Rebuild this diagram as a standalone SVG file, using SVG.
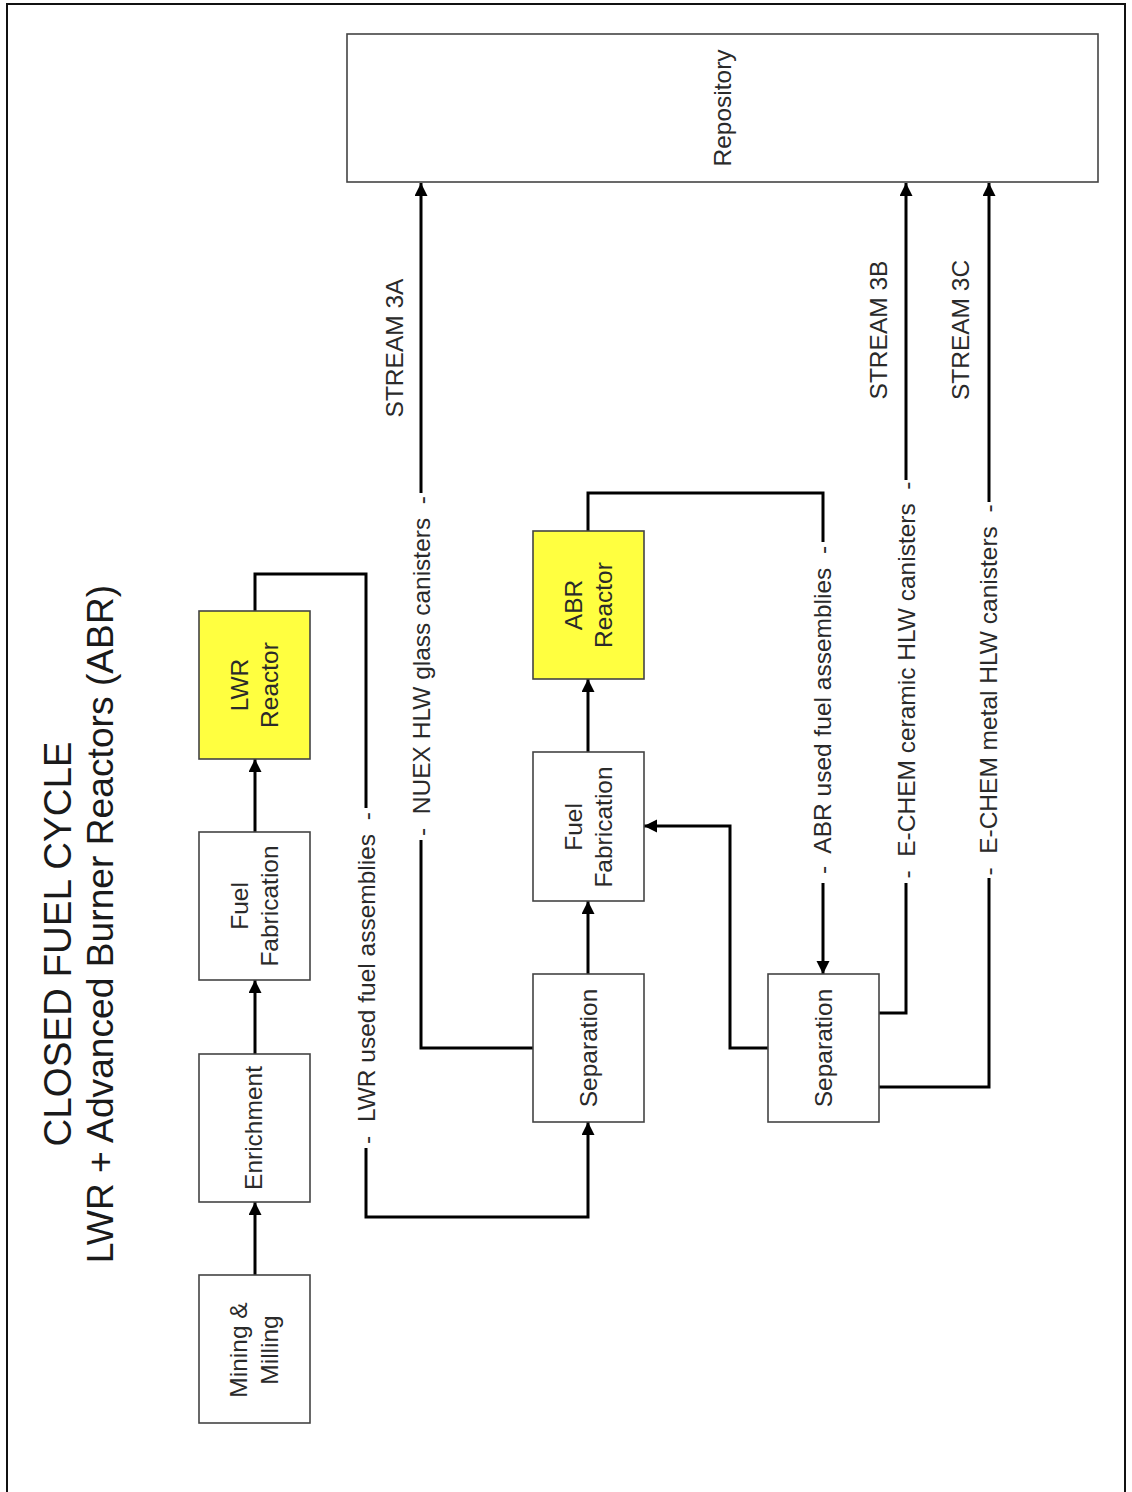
<svg xmlns="http://www.w3.org/2000/svg" width="1132" height="1492" viewBox="0 0 1132 1492">
<style>
.bx{fill:#fff;stroke:#444;stroke-width:1.6}
.rx{fill:#ffff40;stroke:#444;stroke-width:1.6}
.t{font-family:"Liberation Sans",Arial,sans-serif;font-size:24.5px;fill:#2a2a2a;text-anchor:middle}
.ti{font-family:"Liberation Sans",Arial,sans-serif;font-size:38.5px;fill:#1a1a1a;text-anchor:middle}
.c{fill:none;stroke:#000;stroke-width:3}
</style>
<defs>
<marker id="ah" markerWidth="14" markerHeight="14" refX="13" refY="6.5" orient="auto" markerUnits="userSpaceOnUse"><path d="M0,0 L13,6.5 L0,13 Z" fill="#000"/></marker>
</defs>
<rect x="7" y="4" width="1118" height="1510" fill="#fff" stroke="#111" stroke-width="2"/>
<g id="title">
<text class="ti" transform="translate(71,944) rotate(-90)">CLOSED FUEL CYCLE</text>
<text class="ti" style="font-size:37.2px" transform="translate(113,924) rotate(-90)">LWR + Advanced Burner Reactors (ABR)</text>
</g>
<g id="connectors">
<path class="c" d="M255,1275 V1202" marker-end="url(#ah)"/>
<path class="c" d="M255,1054 V980" marker-end="url(#ah)"/>
<path class="c" d="M255,832 V759" marker-end="url(#ah)"/>
<path class="c" d="M255,611 V574 H366 V808"/>
<path class="c" d="M366,1148 V1217 H588 V1122" marker-end="url(#ah)"/>
<path class="c" d="M588,974 V901" marker-end="url(#ah)"/>
<path class="c" d="M588,752 V679" marker-end="url(#ah)"/>
<path class="c" d="M588,531 V493 H823 V542"/>
<path class="c" d="M823,883 V974" marker-end="url(#ah)"/>
<path class="c" d="M533,1048 H421 V840"/>
<path class="c" d="M421,493 V183" marker-end="url(#ah)"/>
<path class="c" d="M768,1048 H730 V826 H644" marker-end="url(#ah)"/>
<path class="c" d="M879,1013 H906 V883"/>
<path class="c" d="M906,480 V183" marker-end="url(#ah)"/>
<path class="c" d="M879,1087 H989 V878"/>
<path class="c" d="M989,502 V183" marker-end="url(#ah)"/>
</g>
<g id="labels">
<text class="t" xml:space="preserve" transform="translate(375,978) rotate(-90)">-  LWR used fuel assemblies  -</text>
<text class="t" xml:space="preserve" transform="translate(430,666) rotate(-90)">-  NUEX HLW glass canisters  -</text>
<text class="t" xml:space="preserve" transform="translate(831,710) rotate(-90)">-  ABR used fuel assemblies  -</text>
<text class="t" xml:space="preserve" transform="translate(915,680) rotate(-90)">-  E-CHEM ceramic HLW canisters  -</text>
<text class="t" xml:space="preserve" transform="translate(997,690) rotate(-90)">-  E-CHEM metal HLW canisters  -</text>
<text class="t" transform="translate(403,348) rotate(-90)">STREAM 3A</text>
<text class="t" transform="translate(887,330) rotate(-90)">STREAM 3B</text>
<text class="t" transform="translate(969,330) rotate(-90)">STREAM 3C</text>
</g>
<g id="repository">
<rect class="bx" x="347" y="34" width="751" height="148"/>
<text class="t" transform="translate(731,108) rotate(-90)">Repository</text>
</g>
<g id="mining">
<rect class="bx" x="199" y="1275" width="111" height="148"/>
<text class="t" transform="translate(247,1350) rotate(-90)">Mining &amp;</text>
<text class="t" transform="translate(278,1350) rotate(-90)">Milling</text>
</g>
<g id="enrichment">
<rect class="bx" x="199" y="1054" width="111" height="148"/>
<text class="t" transform="translate(262,1128) rotate(-90)">Enrichment</text>
</g>
<g id="fuelfab1">
<rect class="bx" x="199" y="832" width="111" height="148"/>
<text class="t" transform="translate(248,906) rotate(-90)">Fuel</text>
<text class="t" transform="translate(278,906) rotate(-90)">Fabrication</text>
</g>
<g id="lwr">
<rect class="rx" x="199" y="611" width="111" height="148"/>
<text class="t" transform="translate(248,685) rotate(-90)">LWR</text>
<text class="t" transform="translate(278,685) rotate(-90)">Reactor</text>
</g>
<g id="separation1">
<rect class="bx" x="533" y="974" width="111" height="148"/>
<text class="t" transform="translate(597,1048) rotate(-90)">Separation</text>
</g>
<g id="fuelfab2">
<rect class="bx" x="533" y="752" width="111" height="149"/>
<text class="t" transform="translate(582,827) rotate(-90)">Fuel</text>
<text class="t" transform="translate(612,827) rotate(-90)">Fabrication</text>
</g>
<g id="abr">
<rect class="rx" x="533" y="531" width="111" height="148"/>
<text class="t" transform="translate(582,605) rotate(-90)">ABR</text>
<text class="t" transform="translate(612,605) rotate(-90)">Reactor</text>
</g>
<g id="separation2">
<rect class="bx" x="768" y="974" width="111" height="148"/>
<text class="t" transform="translate(832,1048) rotate(-90)">Separation</text>
</g>
</svg>
